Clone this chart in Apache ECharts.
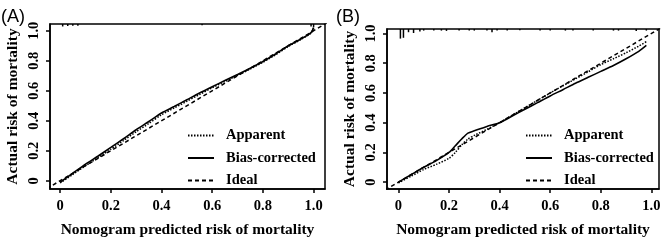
<!DOCTYPE html>
<html>
<head>
<meta charset="utf-8">
<script src="https://cdn.jsdelivr.net/npm/echarts@6/dist/echarts.min.js"></script>
<style>
  html, body { margin: 0; padding: 0; background: #fff; }
  #chart { width: 666px; height: 243px; }
</style>
</head>
<body>
<div id="chart"></div>
<script>
// tick labels shared by both panels
const tickValues = [0, 0.2, 0.4, 0.6, 0.8, 1.0]

// panel A
const predA = [0, 0.05, 0.1, 0.15, 0.2, 0.25, 0.3, 0.35, 0.4, 0.45, 0.5, 0.55, 0.6, 0.65, 0.7, 0.75, 0.8, 0.85, 0.9, 0.95, 0.99, 1.0]
const biasA = [-0.01, 0.05, 0.11, 0.165, 0.222, 0.28, 0.34, 0.395, 0.452, 0.495, 0.54, 0.585, 0.627, 0.668, 0.708, 0.75, 0.795, 0.845, 0.9, 0.945, 0.988, 1.02]
const apparentA = [-0.015, 0.042, 0.1, 0.155, 0.21, 0.268, 0.327, 0.382, 0.44, 0.485, 0.53, 0.575, 0.62, 0.662, 0.703, 0.745, 0.79, 0.84, 0.895, 0.942, 0.985, 1.02]
const rugXA = [0.01, 0.03, 0.05, 0.07, 0.56, 0.99, 1.0]
const rugHA = [0.015, 0.012, 0.01, 0.01, 0.008, 0.015, 0.02]

// panel B
const predB = [0, 0.05, 0.1, 0.15, 0.2, 0.225, 0.25, 0.275, 0.3, 0.35, 0.4, 0.45, 0.5, 0.55, 0.6, 0.65, 0.7, 0.75, 0.8, 0.85, 0.9, 0.95, 0.98]
const biasB = [0, 0.05, 0.1, 0.145, 0.2, 0.245, 0.29, 0.33, 0.345, 0.375, 0.4, 0.445, 0.49, 0.535, 0.58, 0.622, 0.665, 0.705, 0.745, 0.785, 0.83, 0.88, 0.92]
const apparentB = [-0.005, 0.04, 0.085, 0.12, 0.16, 0.2, 0.25, 0.29, 0.315, 0.355, 0.4, 0.45, 0.5, 0.55, 0.6, 0.648, 0.695, 0.742, 0.79, 0.83, 0.87, 0.915, 0.945]
const rugXB = [0.008, 0.02, 0.04, 0.06, 0.085, 0.1, 0.14, 0.17, 0.19, 0.24, 0.28, 0.3, 0.35, 0.37, 0.39, 0.43, 0.48, 0.56, 0.6, 0.66, 0.69, 0.77, 0.85, 0.87, 0.94, 0.98]
const rugHB = [0.06, 0.055, 0.02, 0.025, 0.015, 0.01, 0.01, 0.01, 0.012, 0.01, 0.01, 0.01, 0.01, 0.02, 0.01, 0.01, 0.008, 0.01, 0.01, 0.01, 0.01, 0.01, 0.01, 0.01, 0.012, 0.01]

const idealLine = [[-0.1, -0.1], [1.1, 1.1]]

const serif = 'Liberation Serif'
const zip = (xs, ys) => xs.map((x, i) => [x, ys[i]])
const fmt = v => v === 0 ? '0' : v.toFixed(1)

function xAxisFor(idx, min, max) {
    return {
        type: 'value', gridIndex: idx, min: min, max: max,
        name: 'Nomogram predicted risk of mortality',
        nameLocation: 'middle', nameGap: 33,
        nameTextStyle: { fontFamily: serif, fontWeight: 'bold', fontSize: 15.5, color: '#000' },
        axisLine: { show: true, onZero: false, lineStyle: { color: '#000', width: 1.5 } },
        axisTick: { show: true, length: 4, customValues: tickValues, lineStyle: { color: '#000', width: 1.5 } },
        axisLabel: { customValues: tickValues, formatter: fmt, margin: 10,
            fontFamily: serif, fontWeight: 'bold', fontSize: 14.5, color: '#000' },
        splitLine: { show: false }
    }
}
function yAxisFor(idx, min, max) {
    return {
        type: 'value', gridIndex: idx, min: min, max: max,
        name: 'Actual risk of mortality',
        nameLocation: 'middle', nameGap: 29,
        nameTextStyle: { fontFamily: serif, fontWeight: 'bold', fontSize: 15.5, color: '#000' },
        axisLine: { show: true, onZero: false, lineStyle: { color: '#000', width: 1.5 } },
        axisTick: { show: true, length: 4, customValues: tickValues, lineStyle: { color: '#000', width: 1.5 } },
        axisLabel: { customValues: tickValues, formatter: fmt, rotate: 90, margin: 8,
            fontFamily: serif, fontWeight: 'bold', fontSize: 14.5, color: '#000' },
        splitLine: { show: false }
    }
}
function rugAxis(idx) {
    return { type: 'value', gridIndex: idx, min: 0, max: 1, inverse: true, show: false }
}

function panelSeries(idx, pred, apparent, bias, rugX, rugH) {
    const base = { type: 'line', xAxisIndex: idx, yAxisIndex: idx * 2, symbol: 'none', smooth: 0.25,
        silent: true, color: '#000' }
    return [
        Object.assign({}, base, { name: 'Apparent', data: zip(pred, apparent),
            lineStyle: { color: '#000', width: 1.5, type: [1.5, 1.5] } }),
        Object.assign({}, base, { name: 'Bias-corrected', data: zip(pred, bias),
            lineStyle: { color: '#000', width: 1.6, type: 'solid' } }),
        Object.assign({}, base, { name: 'Ideal', data: idealLine, smooth: false,
            lineStyle: { color: '#000', width: 1.5, type: [4, 3] } }),
        { type: 'bar', xAxisIndex: idx, yAxisIndex: idx * 2 + 1, barWidth: 1.5, silent: true,
          data: zip(rugX, rugH), itemStyle: { color: '#000' } }
    ]
}

function legendFor(left) {
    return {
        left: left, top: 123, orient: 'vertical',
        itemWidth: 26, itemHeight: 14, itemGap: 7.5,
        itemStyle: { opacity: 0 },
        data: ['Apparent', 'Bias-corrected', 'Ideal'],
        textStyle: { fontFamily: serif, fontWeight: 'bold', fontSize: 14.5, color: '#000', padding: [0, 0, 0, 7] }
    }
}

const chart = echarts.init(document.getElementById('chart'), null, { renderer: 'canvas' })
chart.setOption({
    animation: false,
    backgroundColor: '#fff',
    title: [
        { text: '(A)', left: -4, top: 3, textStyle: { fontFamily: 'Liberation Sans', fontWeight: 'normal', fontSize: 18, color: '#000' } },
        { text: '(B)', left: 331, top: 3, textStyle: { fontFamily: 'Liberation Sans', fontWeight: 'normal', fontSize: 18, color: '#000' } }
    ],
    grid: [
        { left: 50, top: 24, width: 275, height: 169, show: true, borderColor: '#000', borderWidth: 1.5 },
        { left: 387, top: 29, width: 272, height: 162, show: true, borderColor: '#000', borderWidth: 1.5 }
    ],
    xAxis: [xAxisFor(0, -0.04, 1.045), xAxisFor(1, -0.045, 1.03)],
    yAxis: [yAxisFor(0, -0.055, 1.045), rugAxis(0), yAxisFor(1, -0.046, 1.03), rugAxis(1)],
    legend: [legendFor(182), legendFor(520)],
    series: [].concat(
        panelSeries(0, predA, apparentA, biasA, rugXA, rugHA),
        panelSeries(1, predB, apparentB, biasB, rugXB, rugHB)
    )
})
</script>
</body>
</html>
